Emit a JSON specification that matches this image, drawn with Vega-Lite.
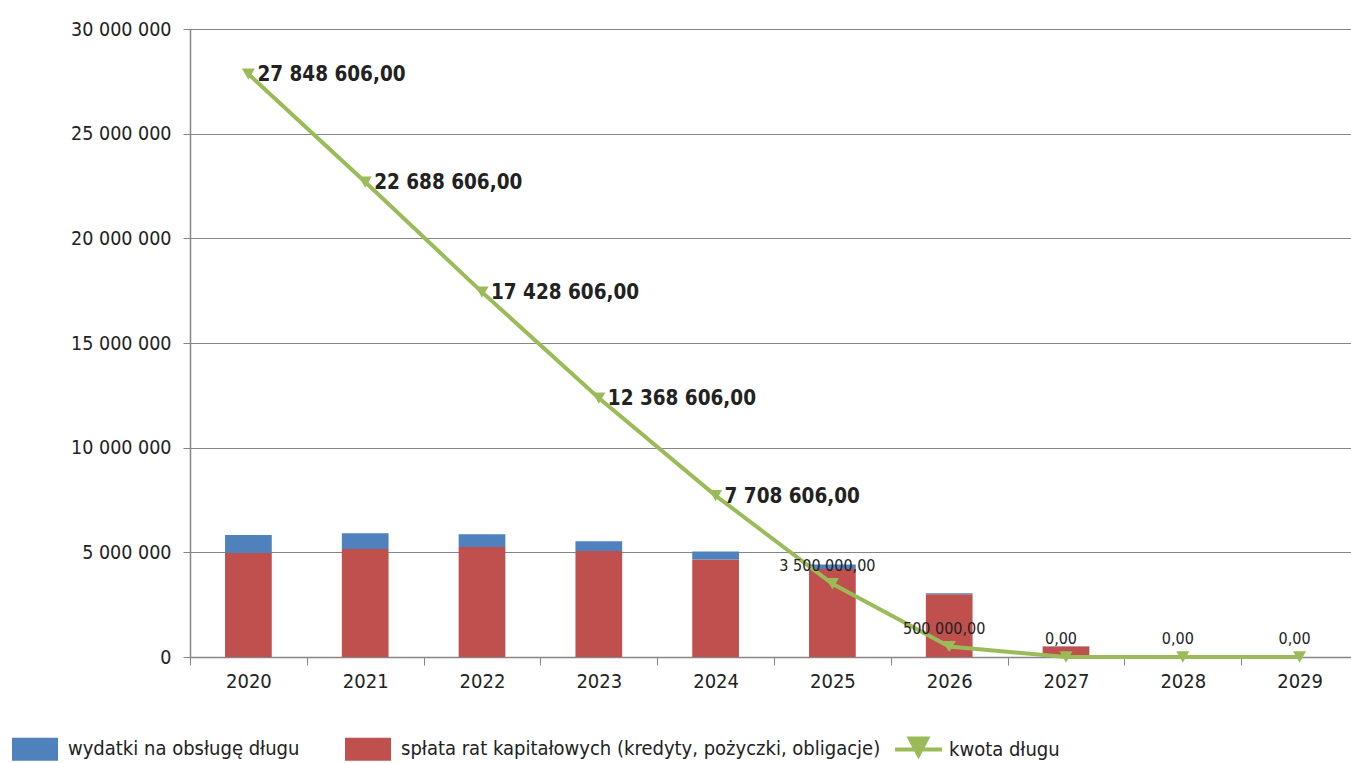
{
  "$schema": "https://vega.github.io/schema/vega-lite/v6.json",
  "width": 1168,
  "height": 628,
  "autosize": {"type": "none"},
  "padding": {"left": 190, "top": 29, "right": 0, "bottom": 106},
  "config": {
    "locale": {"number": {"decimal": ",", "thousands": " ", "grouping": [3], "currency": ["", " zł"]}},
    "font": "DejaVu Sans Condensed, sans-serif",
    "view": {"stroke": null},
    "axis": {"labelFont": "DejaVu Sans Condensed, sans-serif", "labelColor": "#222222", "domainColor": "#868686", "tickColor": "#868686", "gridColor": "#868686", "title": null},
    "legend": {"labelFont": "DejaVu Sans Condensed, sans-serif", "labelColor": "#222222"}
  },
  "datasets": {
    "slupki": [
      {"rok": "2020", "kategoria": "spłata rat kapitałowych (kredyty, pożyczki, obligacje)", "kwota": 4970000},
      {"rok": "2020", "kategoria": "wydatki na obsługę długu", "kwota": 860000},
      {"rok": "2021", "kategoria": "spłata rat kapitałowych (kredyty, pożyczki, obligacje)", "kwota": 5160000},
      {"rok": "2021", "kategoria": "wydatki na obsługę długu", "kwota": 750000},
      {"rok": "2022", "kategoria": "spłata rat kapitałowych (kredyty, pożyczki, obligacje)", "kwota": 5260000},
      {"rok": "2022", "kategoria": "wydatki na obsługę długu", "kwota": 600000},
      {"rok": "2023", "kategoria": "spłata rat kapitałowych (kredyty, pożyczki, obligacje)", "kwota": 5060000},
      {"rok": "2023", "kategoria": "wydatki na obsługę długu", "kwota": 470000},
      {"rok": "2024", "kategoria": "spłata rat kapitałowych (kredyty, pożyczki, obligacje)", "kwota": 4660000},
      {"rok": "2024", "kategoria": "wydatki na obsługę długu", "kwota": 380000},
      {"rok": "2025", "kategoria": "spłata rat kapitałowych (kredyty, pożyczki, obligacje)", "kwota": 4208606},
      {"rok": "2025", "kategoria": "wydatki na obsługę długu", "kwota": 210000},
      {"rok": "2026", "kategoria": "spłata rat kapitałowych (kredyty, pożyczki, obligacje)", "kwota": 3000000},
      {"rok": "2026", "kategoria": "wydatki na obsługę długu", "kwota": 50000},
      {"rok": "2027", "kategoria": "spłata rat kapitałowych (kredyty, pożyczki, obligacje)", "kwota": 500000},
      {"rok": "2027", "kategoria": "wydatki na obsługę długu", "kwota": 10000},
      {"rok": "2028", "kategoria": "spłata rat kapitałowych (kredyty, pożyczki, obligacje)", "kwota": 0},
      {"rok": "2028", "kategoria": "wydatki na obsługę długu", "kwota": 0},
      {"rok": "2029", "kategoria": "spłata rat kapitałowych (kredyty, pożyczki, obligacje)", "kwota": 0},
      {"rok": "2029", "kategoria": "wydatki na obsługę długu", "kwota": 0}
    ],
    "dlug": [
      {"rok": "2020", "kwota": 27848606, "seria": "kwota długu"},
      {"rok": "2021", "kwota": 22688606, "seria": "kwota długu"},
      {"rok": "2022", "kwota": 17428606, "seria": "kwota długu"},
      {"rok": "2023", "kwota": 12368606, "seria": "kwota długu"},
      {"rok": "2024", "kwota": 7708606, "seria": "kwota długu"},
      {"rok": "2025", "kwota": 3500000, "seria": "kwota długu"},
      {"rok": "2026", "kwota": 500000, "seria": "kwota długu"},
      {"rok": "2027", "kwota": 0, "seria": "kwota długu"},
      {"rok": "2028", "kwota": 0, "seria": "kwota długu"},
      {"rok": "2029", "kwota": 0, "seria": "kwota długu"}
    ]
  },
  "encoding": {
    "x": {
      "field": "rok", "type": "nominal",
      "scale": {"paddingInner": 0, "paddingOuter": 0},
      "axis": {"labelAngle": 0, "tickBand": "extent", "tickSize": 8, "labelFontSize": 20, "labelPadding": 6, "domainWidth": 1.5}
    }
  },
  "layer": [
    {
      "data": {"name": "slupki"},
      "mark": {"type": "bar", "width": {"band": 0.4}},
      "encoding": {
        "y": {
          "field": "kwota", "type": "quantitative",
          "scale": {"domain": [0, 30000000]},
          "axis": {"values": [0, 5000000, 10000000, 15000000, 20000000, 25000000, 30000000], "format": ",d", "labelFontSize": 19.5, "tickSize": 7, "labelPadding": 12, "domainWidth": 1.5, "gridWidth": 1.2}
        },
        "color": {
          "field": "kategoria", "type": "nominal",
          "scale": {"domain": ["wydatki na obsługę długu", "spłata rat kapitałowych (kredyty, pożyczki, obligacje)"], "range": ["#4F81BD", "#C0504D"]},
          "legend": {
            "title": null, "orient": "none", "legendX": -178, "legendY": 697, "direction": "horizontal",
            "symbolType": "M-1,-0.5H1V0.5H-1Z", "symbolSize": 2116, "symbolStrokeWidth": 0, "symbolOpacity": 1,
            "labelFontSize": 20, "labelOffset": 10, "columnPadding": 45, "labelLimit": 600
          }
        },
        "order": {"field": "kategoria", "sort": "ascending"}
      }
    },
    {
      "data": {"name": "dlug"},
      "mark": {"type": "line", "strokeWidth": 4, "point": {"shape": "triangle-down", "size": 170, "filled": true}},
      "encoding": {
        "y": {"field": "kwota", "type": "quantitative"},
        "color": {
          "field": "seria", "type": "nominal",
          "scale": {"range": ["#9BBB59"]},
          "legend": {
            "title": null, "orient": "none", "legendX": 705, "legendY": 697,
            "symbolType": "M-1,-0.085H1V0.085H-1Z M-0.51,-0.55H0.51L0,0.43Z", "symbolSize": 2209,
            "labelFontSize": 20, "labelOffset": 7,
            "symbolFillColor": "#9BBB59", "symbolStrokeWidth": 0,
            "encode": {"symbols": {"update": {"fill": {"value": "#9BBB59"}, "strokeWidth": {"value": 0}}}}
          }
        }
      }
    },
    {
      "data": {"name": "dlug"},
      "transform": [{"filter": {"field": "rok", "oneOf": ["2020", "2021", "2022", "2023", "2024"]}}],
      "mark": {"type": "text", "align": "left", "baseline": "middle", "dx": 9, "dy": 1, "fontSize": 20.5, "fontWeight": "bold", "color": "#222222"},
      "encoding": {
        "y": {"field": "kwota", "type": "quantitative"},
        "text": {"field": "kwota", "type": "quantitative", "format": ",.2f"}
      }
    },
    {
      "data": {"name": "dlug"},
      "transform": [{"filter": {"field": "rok", "oneOf": ["2025", "2026", "2027", "2028", "2029"]}}],
      "mark": {"type": "text", "align": "center", "baseline": "alphabetic", "dx": -5, "dy": -13, "fontSize": 16, "color": "#222222"},
      "encoding": {
        "y": {"field": "kwota", "type": "quantitative"},
        "text": {"field": "kwota", "type": "quantitative", "format": ",.2f"}
      }
    }
  ],
  "resolve": {"scale": {"color": "independent"}, "legend": {"color": "independent"}}
}
